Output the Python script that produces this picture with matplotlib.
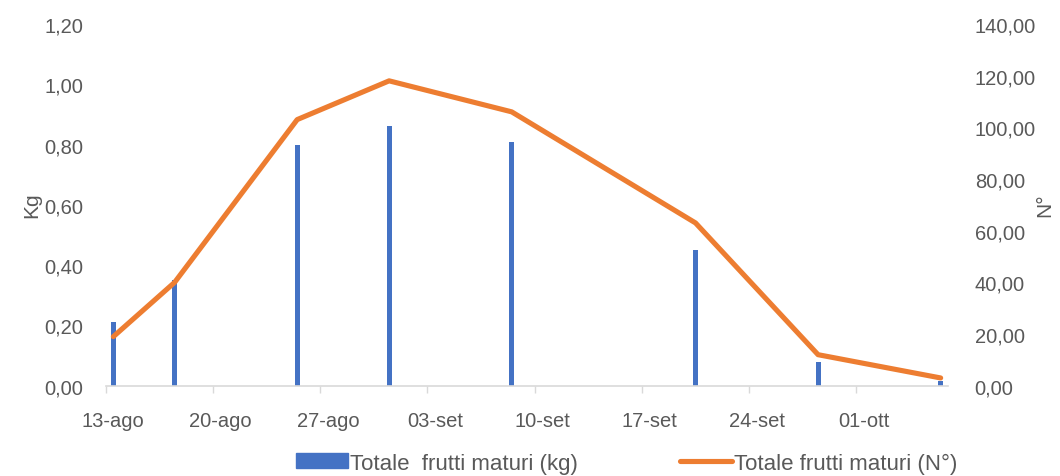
import matplotlib
matplotlib.use("Agg")
import matplotlib.pyplot as plt
import pandas as pd
from matplotlib.patches import Patch
from matplotlib.lines import Line2D

# ---- data ----
start_date = "2021-08-13"
end_date = "2021-10-06"
dates = ["2021-08-13", "2021-08-17", "2021-08-25", "2021-08-31",
         "2021-09-08", "2021-09-20", "2021-09-28", "2021-10-06"]
kg = [0.21, 0.35, 0.80, 0.86, 0.81, 0.45, 0.08, 0.015]
numero = [19, 40, 103, 118, 106, 63, 12, 3]
xtick_labels = ["13-ago", "20-ago", "27-ago", "03-set", "10-set", "17-set", "24-set", "01-ott"]
left_ticks = [0.0, 0.2, 0.4, 0.6, 0.8, 1.0, 1.2]
right_ticks = [0, 20, 40, 60, 80, 100, 120, 140]
label_kg = "Totale  frutti maturi (kg)"
label_n = "Totale frutti maturi (N°)"

plt.rcParams['font.family'] = ['Liberation Sans', 'DejaVu Sans']
GRAY = "#595959"
BLUE = "#4472C4"
ORANGE = "#ED7D31"
FS = 14.5

t0 = pd.Timestamp(start_date)
x = [(pd.Timestamp(d) - t0).days for d in dates]
ndays = (pd.Timestamp(end_date) - t0).days + 1

fig = plt.figure(figsize=(10.6, 4.77), dpi=100)
ax = fig.add_axes([105.7 / 1060, 1 - 386.7 / 477, (948.3 - 105.7) / 1060, (386.7 - 25) / 477])
ax2 = ax.twinx()

ax.bar(x, kg, width=0.32, color=BLUE, zorder=2)
ax2.plot(x, numero, color=ORANGE, lw=3.7, solid_capstyle='round', solid_joinstyle='round', zorder=3)

ax.set_xlim(-0.5, ndays - 0.5)
ax.set_ylim(0, 1.2)
ax2.set_ylim(0, 140)

# x ticks: marks at week boundaries, labels centred on the day slot
ax.set_xticks([-0.5 + 7 * k for k in range(len(xtick_labels))])
ax.set_xticklabels([])
ax.set_xticks([7 * k for k in range(len(xtick_labels))], minor=True)
ax.set_xticklabels(xtick_labels, minor=True)
ax.tick_params(axis='x', which='major', length=5, width=1, color="#D9D9D9", direction='out')
ax.tick_params(axis='x', which='minor', length=0, pad=18, labelsize=FS, labelcolor=GRAY)

ax.set_yticks(left_ticks)
ax.set_yticklabels([f"{v:.2f}".replace(".", ",") for v in left_ticks])
ax.tick_params(axis='y', length=0, pad=16, labelsize=FS, labelcolor=GRAY)

ax2.set_yticks(right_ticks)
ax2.set_yticklabels([f"{v:.2f}".replace(".", ",") for v in right_ticks])
ax2.tick_params(axis='y', length=0, pad=19, labelsize=FS, labelcolor=GRAY)

for a in (ax, ax2):
    for s in ("top", "left", "right", "bottom"):
        a.spines[s].set_visible(False)
ax.spines["bottom"].set_visible(True)
ax.spines["bottom"].set_color("#D9D9D9")
ax.spines["bottom"].set_linewidth(1.2)

fig.text(32 / 1060, 1 - 205 / 477, "Kg", rotation=90, ha='center', va='center', fontsize=15, color=GRAY)
fig.text(1045 / 1060, 1 - 205 / 477, "N°", rotation=90, ha='center', va='center', fontsize=15, color=GRAY)

handles = [Patch(facecolor=BLUE, edgecolor=BLUE),
           Line2D([0], [0], color=ORANGE, lw=3.7, solid_capstyle='round')]
fig.legend(handles, [label_kg, label_n], loc='center', bbox_to_anchor=(626.5 / 1060, 1 - 464 / 477),
           ncol=2, frameon=False, fontsize=16, labelcolor=GRAY, handlelength=2.35, handleheight=0.65,
           handletextpad=0.08, columnspacing=4.6)

fig.savefig("out.png", dpi=100)
